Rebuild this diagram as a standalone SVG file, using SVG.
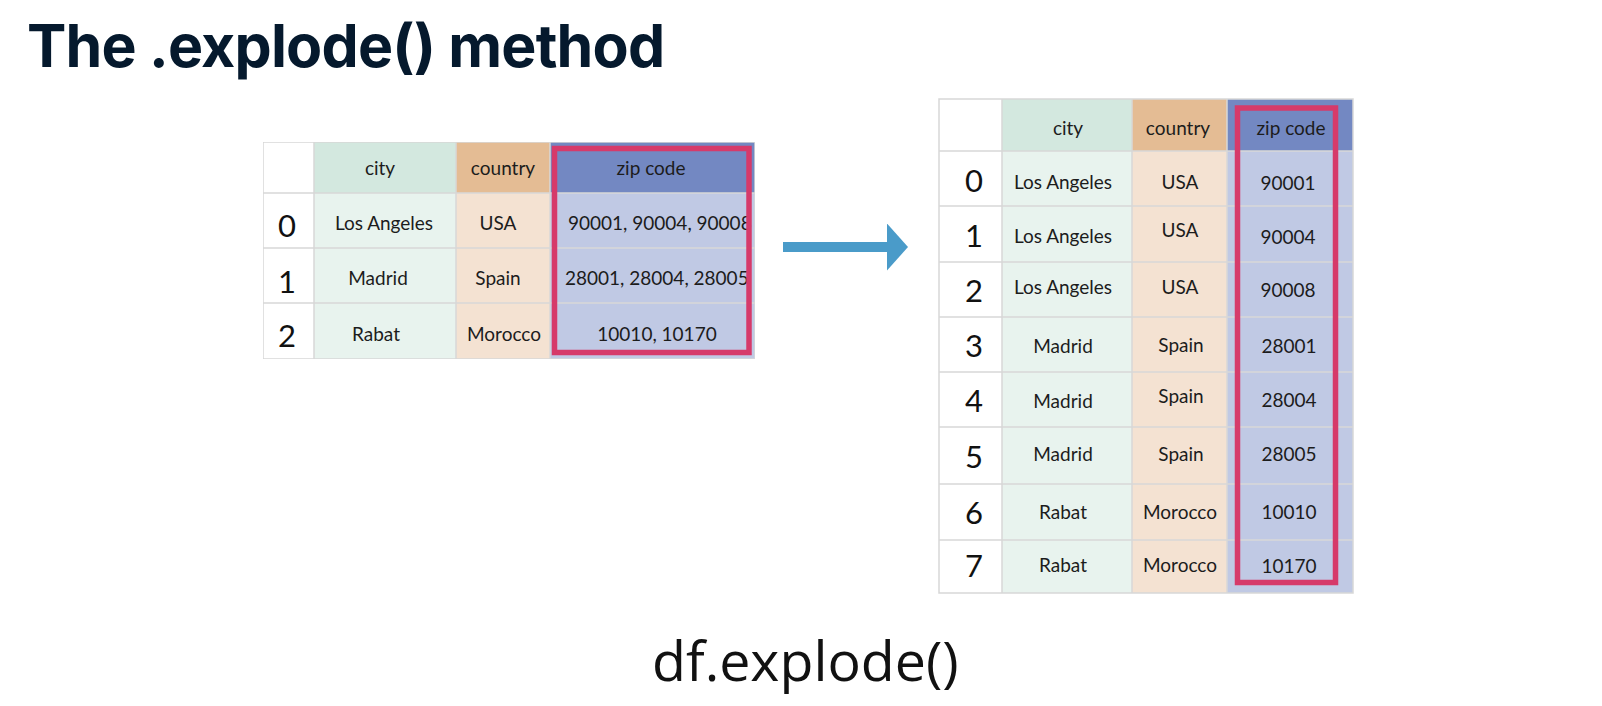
<svg xmlns="http://www.w3.org/2000/svg" width="1602" height="706" viewBox="0 0 1602 706">
<style>
.title{font-family:Inter,"Liberation Sans",sans-serif;font-weight:700;font-size:59px;letter-spacing:-0.8px;fill:#05192d}
.code{font-family:"Open Sans","Liberation Sans",sans-serif;font-size:55.5px;fill:#111}
.cell{font-family:Lato,"Liberation Sans",sans-serif;font-size:19px;fill:#1c1c1c;text-anchor:middle}
.cl{text-anchor:start}
.idx{font-family:Lato,"Liberation Sans",sans-serif;font-weight:400;font-size:31px;fill:#111;text-anchor:middle}
.grid{stroke:#d7d7d7;stroke-width:1.5;fill:none}
.hi{fill:none;stroke:#d63a6a;stroke-width:5.5}
.cityH{fill:#d3e8df}.cityB{fill:#e8f3ee}
.ctyH{fill:#e4bc94}.ctyB{fill:#f4e2d2}
.zipH{fill:#7388c2}.zipB{fill:#c0c9e4}
</style>
<defs>
<clipPath id="clipL"><rect x="263" y="142" width="492" height="217"/></clipPath>
<marker id="ah" viewBox="0 0 21 47" refX="0" refY="23.5" markerWidth="21" markerHeight="47" markerUnits="userSpaceOnUse" orient="auto">
<path d="M0,0 L21,23.5 L0,47 Z" fill="#4a9bc9"/>
</marker>
</defs>
<rect width="1602" height="706" fill="#fff"/>
<text class="title" x="27" y="67">The .explode() method</text>

<g id="table-before" clip-path="url(#clipL)">
<rect x="263" y="142" width="51" height="217" fill="#fff"/>
<rect class="cityH" x="314" y="142" width="142" height="51"/>
<rect class="cityB" x="314" y="193" width="142" height="166"/>
<rect class="ctyH" x="456" y="142" width="94" height="51"/>
<rect class="ctyB" x="456" y="193" width="94" height="166"/>
<rect class="zipH" x="550" y="142" width="205" height="51"/>
<rect class="zipB" x="550" y="193" width="205" height="166"/>
<path class="grid" d="M263,193H755M263,248H755M263,303H755M314,142V359M456,142V359M550,142V359"/>
<rect class="grid" x="263" y="142" width="492" height="217"/>
<text class="cell" x="380" y="175">city</text>
<text class="cell" x="503" y="175">country</text>
<text class="cell" x="651" y="175">zip code</text>
<text class="idx" x="287" y="237">0</text>
<text class="cell" x="384" y="230">Los Angeles</text>
<text class="cell" x="498" y="230">USA</text>
<text class="cell cl" x="568" y="230">90001, 90004, 90008</text>
<text class="idx" x="287" y="293">1</text>
<text class="cell" x="378" y="285">Madrid</text>
<text class="cell" x="498" y="285">Spain</text>
<text class="cell cl" x="565" y="285">28001, 28004, 28005</text>
<text class="idx" x="287" y="347">2</text>
<text class="cell" x="376" y="341">Rabat</text>
<text class="cell" x="504" y="341">Morocco</text>
<text class="cell" x="657" y="341">10010, 10170</text>
<rect class="hi" x="554.5" y="148.5" width="194.5" height="204"/>
</g>

<g id="connectors">
<line x1="783" y1="247" x2="887" y2="247" stroke="#4a9bc9" stroke-width="10" marker-end="url(#ah)"/>
</g>

<g id="table-after">
<rect x="939" y="99" width="63" height="494" fill="#fff"/>
<rect class="cityH" x="1002" y="99" width="130" height="52"/>
<rect class="cityB" x="1002" y="151" width="130" height="442"/>
<rect class="ctyH" x="1132" y="99" width="95" height="52"/>
<rect class="ctyB" x="1132" y="151" width="95" height="442"/>
<rect class="zipH" x="1227" y="99" width="126" height="52"/>
<rect class="zipB" x="1227" y="151" width="126" height="442"/>
<path class="grid" d="M939,151H1353M939,206H1353M939,262H1353M939,317H1353M939,372H1353M939,427H1353M939,484H1353M939,540H1353M1002,99V593M1132,99V593M1227,99V593"/>
<rect class="grid" x="939" y="99" width="414" height="494"/>
<text class="cell" x="1068" y="135">city</text>
<text class="cell" x="1178" y="135">country</text>
<text class="cell" x="1291" y="135">zip code</text>
<text class="idx" x="974" y="192">0</text>
<text class="cell" x="1063" y="189">Los Angeles</text>
<text class="cell" x="1180" y="189">USA</text>
<text class="cell" x="1288" y="190">90001</text>
<text class="idx" x="974" y="247">1</text>
<text class="cell" x="1063" y="243">Los Angeles</text>
<text class="cell" x="1180" y="237">USA</text>
<text class="cell" x="1288" y="244">90004</text>
<text class="idx" x="974" y="302">2</text>
<text class="cell" x="1063" y="294">Los Angeles</text>
<text class="cell" x="1180" y="294">USA</text>
<text class="cell" x="1288" y="297">90008</text>
<text class="idx" x="974" y="357">3</text>
<text class="cell" x="1063" y="353">Madrid</text>
<text class="cell" x="1181" y="352">Spain</text>
<text class="cell" x="1289" y="353">28001</text>
<text class="idx" x="974" y="412">4</text>
<text class="cell" x="1063" y="408">Madrid</text>
<text class="cell" x="1181" y="403">Spain</text>
<text class="cell" x="1289" y="407">28004</text>
<text class="idx" x="974" y="468">5</text>
<text class="cell" x="1063" y="461">Madrid</text>
<text class="cell" x="1181" y="461">Spain</text>
<text class="cell" x="1289" y="461">28005</text>
<text class="idx" x="974" y="524">6</text>
<text class="cell" x="1063" y="519">Rabat</text>
<text class="cell" x="1180" y="519">Morocco</text>
<text class="cell" x="1289" y="519">10010</text>
<text class="idx" x="974" y="577">7</text>
<text class="cell" x="1063" y="572">Rabat</text>
<text class="cell" x="1180" y="572">Morocco</text>
<text class="cell" x="1289" y="573">10170</text>
<rect class="hi" x="1237.5" y="108" width="98" height="474.5" stroke-width="5"/>
</g>

<text class="code" x="652" y="681">df.explode()</text>
</svg>
